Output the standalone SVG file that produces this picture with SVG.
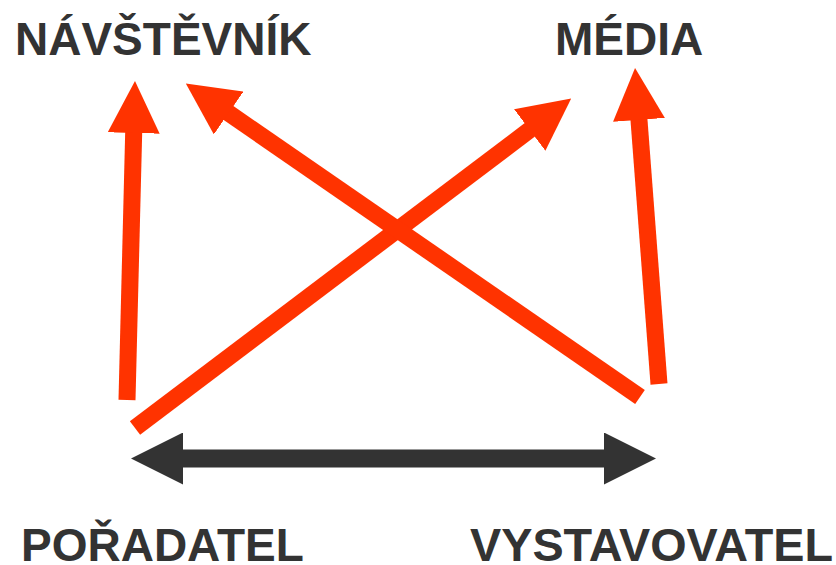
<svg xmlns="http://www.w3.org/2000/svg" width="836" height="565" viewBox="0 0 836 565">
  <style>
    .label { font-family: "Liberation Sans", Arial, sans-serif; font-weight: bold; font-size: 46px; fill: #333333; }
    .flow { stroke: #ff3300; stroke-width: 17; fill: none; }
    .link { stroke: #333333; stroke-width: 18; fill: none; }
  </style>
  <defs>
    <!-- filled triangular heads, 52px long and 52px wide, base at the line end -->
    <marker id="head-red" viewBox="0 0 52 52" refX="1" refY="26" markerWidth="52" markerHeight="52" markerUnits="userSpaceOnUse" orient="auto">
      <path d="M0,0 L52,26 L0,52 Z" fill="#ff3300"/>
    </marker>
    <marker id="head-dark" viewBox="0 0 52 52" refX="1" refY="26" markerWidth="52" markerHeight="52" markerUnits="userSpaceOnUse" orient="auto-start-reverse">
      <path d="M0,0 L52,26 L0,52 Z" fill="#333333"/>
    </marker>
  </defs>

  <rect width="836" height="565" fill="#ffffff"/>

  <g id="navstevnik">
    <text class="label" x="15" y="55">NÁVŠTĚVNÍK</text>
  </g>
  <g id="media">
    <text class="label" x="555" y="55">MÉDIA</text>
  </g>
  <g id="poradatel">
    <text class="label" x="21" y="561">POŘADATEL</text>
  </g>
  <g id="vystavovatel">
    <text class="label" x="470" y="561" textLength="363" lengthAdjust="spacingAndGlyphs">VYSTAVOVATEL</text>
  </g>

  <g id="connectors">
    <!-- organiser -> visitor -->
    <line class="flow" x1="127" y1="400" x2="133.7" y2="132" marker-end="url(#head-red)"/>
    <!-- exhibitor -> media -->
    <line class="flow" x1="659" y1="384" x2="638.9" y2="118.9" marker-end="url(#head-red)"/>
    <!-- organiser -> media -->
    <line class="flow" x1="135" y1="428" x2="530.5" y2="129.3" marker-end="url(#head-red)"/>
    <!-- exhibitor -> visitor -->
    <line class="flow" x1="640" y1="397" x2="227.8" y2="112.5" marker-end="url(#head-red)"/>
    <!-- organiser <-> exhibitor -->
    <line class="link" x1="182" y1="458.5" x2="605" y2="458.5" marker-start="url(#head-dark)" marker-end="url(#head-dark)"/>
  </g>
</svg>
